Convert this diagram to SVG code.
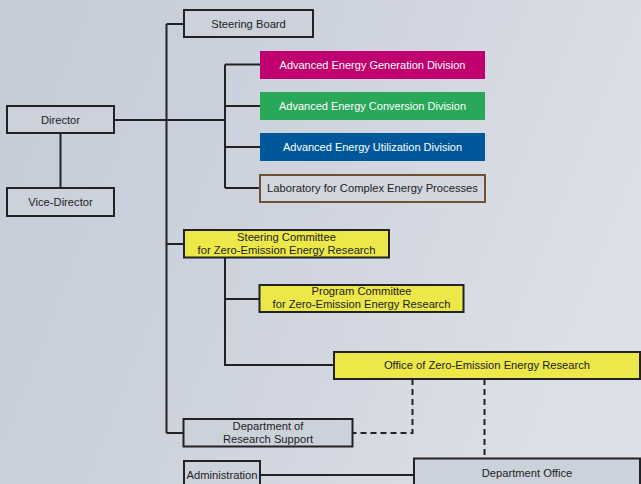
<svg xmlns="http://www.w3.org/2000/svg" width="641" height="484" viewBox="0 0 641 484">
<defs>
<linearGradient id="bg" x1="0" y1="0" x2="1" y2="0.3">
<stop offset="0" stop-color="#c4ccd8"/>
<stop offset="0.6" stop-color="#d0d5df"/>
<stop offset="1" stop-color="#dcdfe7"/>
</linearGradient>
<style>
.box{fill:#ccd2dc;stroke:#222;stroke-width:2}
.yel{fill:#ece84a;stroke:#222;stroke-width:2}
.ln{fill:none;stroke:#222;stroke-width:2}
.dash{fill:none;stroke:#222;stroke-width:2;stroke-dasharray:6 4}
text{font-family:"Liberation Sans",Arial,sans-serif;font-size:11.2px;fill:#222;text-anchor:middle}
.w{fill:#fff;font-size:11px}
</style>
</defs>
<rect width="641" height="484" fill="url(#bg)"/>
<g id="connectors">
<path class="ln" d="M114 120H225M60.5 133V188M166.5 24V433M166.5 24H184M225 64.5V188M225 64.5H260M225 106H260M225 147H260M225 188H259M166.5 244H184M225 258V365H334M225 299H259M166.5 433H183M260 475H414"/>
<path class="dash" d="M412.5 379V433H353M484.5 379V458"/>
</g>
<g id="steering-board"><rect class="box" x="184" y="10" width="129" height="27"/><text x="248.5" y="27.5">Steering Board</text></g>
<g id="director"><rect class="box" x="7" y="106" width="107" height="27"/><text x="60.5" y="123.5">Director</text></g>
<g id="vice-director"><rect class="box" x="7" y="188" width="107" height="28"/><text x="60.5" y="206">Vice-Director</text></g>
<g id="gen"><rect x="260" y="51" width="225" height="28" fill="#c0006e"/><text class="w" x="372.5" y="68.5">Advanced Energy Generation Division</text></g>
<g id="conv"><rect x="260" y="92" width="225" height="28" fill="#2aa85a"/><text class="w" x="372.5" y="109.5">Advanced Energy Conversion Division</text></g>
<g id="util"><rect x="260" y="133" width="225" height="28" fill="#00589a"/><text class="w" x="372.5" y="150.5">Advanced Energy Utilization Division</text></g>
<g id="lab"><rect x="260" y="175" width="225" height="27" fill="#d2d6de" stroke="#6e5130" stroke-width="2"/><text x="372.5" y="192">Laboratory for Complex Energy Processes</text></g>
<g id="steering-committee"><rect class="yel" x="184" y="230" width="205" height="27.5"/><text x="286.5" y="240.5">Steering Committee</text><text x="286.5" y="253.5">for Zero-Emission Energy Research</text></g>
<g id="program-committee"><rect class="yel" x="259.5" y="285" width="204" height="27"/><text x="361.5" y="295">Program Committee</text><text x="361.5" y="308">for Zero-Emission Energy Research</text></g>
<g id="office"><rect class="yel" x="334" y="352" width="306" height="27"/><text x="487" y="369">Office of Zero-Emission Energy Research</text></g>
<g id="dept-research-support"><rect class="box" x="183.5" y="419" width="169" height="27.5"/><text x="268" y="429.5">Department of</text><text x="268" y="442.5">Research Support</text></g>
<g id="administration"><rect class="box" x="184" y="461" width="76" height="30"/><text x="222" y="478.5">Administration</text></g>
<g id="dept-office"><rect class="box" x="414" y="458.5" width="226" height="30"/><text x="527" y="477">Department Office</text></g>
</svg>
